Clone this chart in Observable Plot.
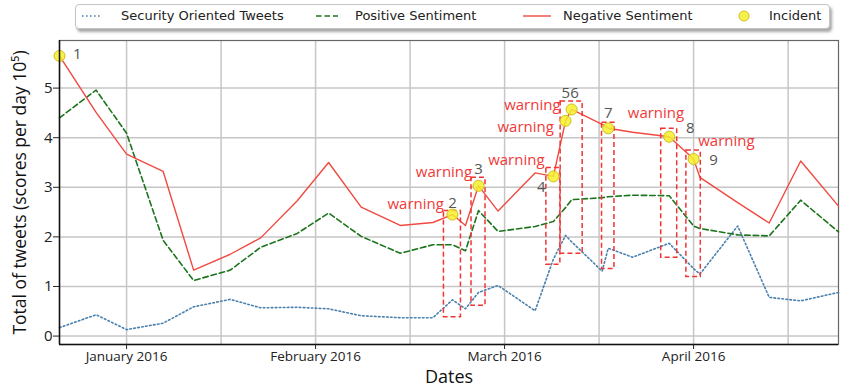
<!DOCTYPE html>
<html><head><meta charset="utf-8">
<script src="https://cdn.jsdelivr.net/npm/d3@7"></script>
<script src="https://cdn.jsdelivr.net/npm/@observablehq/plot@0.6"></script>
<style>
html,body{margin:0;padding:0;background:#fff;}
#chart{position:relative;width:847px;height:392px;overflow:hidden;background:#fff;}
#legend{position:relative;width:847px;height:34px;font-family:"DejaVu Sans",sans-serif;font-size:13px;color:#222;}
#legend span{position:absolute;top:8px;line-height:16px;white-space:nowrap;}
</style></head><body><div id="chart"><div id="legend"></div></div>
<script>
// ---- data ----
const dates = ["2015-12-21","2015-12-27","2016-01-01","2016-01-07","2016-01-12","2016-01-18","2016-01-23","2016-01-29",
  "2016-02-03","2016-02-08","2016-02-14","2016-02-19","2016-02-22","2016-02-24","2016-02-26","2016-02-29",
  "2016-03-06","2016-03-09","2016-03-11","2016-03-12","2016-03-17","2016-03-18","2016-03-22","2016-03-28",
  "2016-04-01","2016-04-02","2016-04-08","2016-04-13","2016-04-18","2016-04-24"];
const negative = [5.65,4.51,3.67,3.32,1.33,1.65,1.98,2.73,3.50,2.60,2.23,2.29,2.45,2.23,3.03,2.52,3.29,3.22,4.34,4.57,4.27,4.19,4.11,4.02,3.57,3.20,2.69,2.28,3.53,2.62];
const positive = [4.40,4.96,4.09,1.93,1.12,1.33,1.79,2.07,2.48,2.01,1.67,1.84,1.84,1.72,2.53,2.11,2.21,2.31,2.59,2.75,2.79,2.81,2.84,2.83,2.22,2.17,2.04,2.02,2.74,2.10];
const security = [0.17,0.43,0.13,0.26,0.59,0.74,0.57,0.58,0.55,0.41,0.37,0.37,0.73,0.55,0.88,1.02,0.51,1.55,2.03,1.90,1.31,1.77,1.59,1.87,1.36,1.25,2.22,0.78,0.71,0.88];

const incidentDates = ["2015-12-21","2016-02-22","2016-02-26","2016-03-09","2016-03-11","2016-03-12","2016-03-18","2016-03-28","2016-04-01"];
const incidentValues = [5.65,2.45,3.03,3.22,4.34,4.57,4.19,4.02,3.57];

const numberTexts = ["1","2","3","4","56","7","8","9"];
const numberAt = [0,1,2,3,5,6,7,8];
const warnAt = [1,2,3,4,5,7,8];
const warnText = "warning";
const boxAt = [1,2,3,5,6,7,8];
const boxTop = [2.52,3.19,3.39,4.73,4.30,4.18,3.74];
const boxBottom = [0.38,0.61,1.44,1.66,1.35,1.58,1.19];

const yTicks = [0,1,2,3,4,5];
const monthTickDates = ["2016-01-01","2016-02-01","2016-03-01","2016-04-01"];
const monthLabels = ["January 2016","February 2016","March 2016","April 2016"];
const legendLabels = ["Security Oriented Tweets","Positive Sentiment","Negative Sentiment","Incident"];
const yTitle = "Total of tweets (scores per day 10\u2075)";
const xTitle = "Dates";

// ---- annotation layout (pixel offsets / sizes) ----
const numberDx = [17.7,0,0,-12,-1.5,0,21,20];
const numberDy = [-2,-11.5,-17,10.5,-16.5,-15,-8.5,1];
const warnDx = [-8.6,-6.3,-8.8,-11.7,-11.1,15,61];
const warnDy = [-10.7,-14,-16,6,-4.7,-23.2,-17.4];
const boxHalf = [8.5,7,7,11,6.2,8,7.2];

// months placed evenly: Dec 2015 = 0, Jan 2016 = 1, ...
function toMonth(s) {
  const d = new Date(s + "T00:00:00Z");
  const y = d.getUTCFullYear(), mo = d.getUTCMonth();
  const dim = new Date(Date.UTC(y, mo + 1, 0)).getUTCDate();
  return (y - 2015) * 12 + mo - 11 + (d.getUTCDate() - 1 + d.getUTCHours() / 24) / dim;
}

const rows = dates.map((d, i) => ({m: toMonth(d), neg: negative[i], pos: positive[i], sec: security[i]}));
const incidents = incidentDates.map((d, i) => ({m: toMonth(d), v: incidentValues[i]}));
const monthTicks = monthTickDates.map(toMonth);
const gridTicks = monthTicks.flatMap(t => [t, t + 0.5]);

const RED = "#f04a40", GREEN = "#1c741c", BLUE = "#4a80ad";

const marks = [
  Plot.gridY(yTicks, {stroke: "#c6c6c6", strokeOpacity: 1, strokeWidth: 1.5}),
  Plot.gridX(gridTicks, {stroke: "#c6c6c6", strokeOpacity: 1, strokeWidth: 1.5}),
  Plot.frame({stroke: "#666", strokeWidth: 1.2}),
  Plot.line(rows, {x: "m", y: "sec", stroke: BLUE, strokeWidth: 1.6, strokeDasharray: "1.6,2.4"}),
  Plot.line(rows, {x: "m", y: "pos", stroke: GREEN, strokeWidth: 1.6, strokeDasharray: "5.5,3"}),
  Plot.line(rows, {x: "m", y: "neg", stroke: RED, strokeWidth: 1.4})
];
boxAt.forEach((k, j) => {
  marks.push(Plot.rect([{m: incidents[k].m, top: boxTop[j], bottom: boxBottom[j]}], {
    x1: "m", x2: "m", y1: "bottom", y2: "top", insetLeft: -boxHalf[j], insetRight: -boxHalf[j],
    fill: "none", stroke: "#f03434", strokeWidth: 1.5, strokeDasharray: "5,3"
  }));
});
marks.push(Plot.dot(incidents, {x: "m", y: "v", r: 5.5, fill: "#f6ee2c", fillOpacity: 0.85, stroke: "#d2be1c", strokeWidth: 1}));
numberAt.forEach((k, j) => {
  marks.push(Plot.text([incidents[k]], {x: "m", y: "v", text: () => numberTexts[j], dx: numberDx[j], dy: numberDy[j],
    fontSize: 15, fill: "#555"}));
});
warnAt.forEach((k, j) => {
  marks.push(Plot.text([incidents[k]], {x: "m", y: "v", text: () => warnText, dx: warnDx[j], dy: warnDy[j],
    textAnchor: "end", fontSize: 15, fill: "#f03a3a"}));
});
marks.push(
  Plot.ruleX([rows[0].m], {stroke: "#111", strokeWidth: 1.5}),
  Plot.ruleY([-0.17], {stroke: "#111", strokeWidth: 1.5}),
  Plot.axisY(yTicks, {tickSize: 6, tickPadding: 1, fontSize: 15, tickFormat: d => String(d), label: null, stroke: "#222"}),
  Plot.axisX(monthTicks, {tickSize: 5, tickPadding: 2, fontSize: 13.5, tickFormat: d => monthLabels[monthTicks.indexOf(d)], label: null, stroke: "#222"}),
  Plot.text([yTitle], {text: d => d, frameAnchor: "left", textAnchor: "middle", rotate: -90, dx: -39, fontSize: 17.5, fill: "#111"}),
  Plot.text([xTitle], {text: d => d, frameAnchor: "bottom", textAnchor: "middle", dy: 38, fontSize: 18, fill: "#111"})
);

const chart = Plot.plot({
  width: 847, height: 358,
  marginTop: 6, marginBottom: 48, marginLeft: 59, marginRight: 9,
  x: {type: "linear", domain: d3.extent(rows, d => d.m)},
  y: {domain: [-0.17, 5.96]},
  style: {fontFamily: "'Open Sans', sans-serif", color: "#222", background: "white", overflow: "visible"},
  marks
});
document.getElementById("chart").appendChild(chart);

// ---- legend (HTML above the SVG) ----
const leg = document.getElementById("legend");
const box = document.createElement("div");
box.style.cssText = "position:absolute;left:75px;top:4px;width:753px;height:23px;border:1px solid #c4c4c4;border-radius:4px;background:#fff;box-shadow:2px 3px 3px rgba(0,0,0,0.35);";
leg.appendChild(box);
const ns = "http://www.w3.org/2000/svg";
const sw = document.createElementNS(ns, "svg");
sw.setAttribute("width", 847); sw.setAttribute("height", 34);
sw.style.cssText = "position:absolute;left:0;top:0;";
const swatches = [
  {x1: 82, x2: 102, stroke: BLUE, dash: "1.6,2.4", w: 1.6},
  {x1: 316, x2: 338, stroke: GREEN, dash: "5.5,3", w: 1.6},
  {x1: 523, x2: 551, stroke: RED, dash: null, w: 1.4}
];
swatches.forEach(s => {
  const l = document.createElementNS(ns, "line");
  l.setAttribute("x1", s.x1); l.setAttribute("x2", s.x2); l.setAttribute("y1", 16); l.setAttribute("y2", 16);
  l.setAttribute("stroke", s.stroke); l.setAttribute("stroke-width", s.w);
  if (s.dash) l.setAttribute("stroke-dasharray", s.dash);
  sw.appendChild(l);
});
const c = document.createElementNS(ns, "circle");
c.setAttribute("cx", 744); c.setAttribute("cy", 16); c.setAttribute("r", 5);
c.setAttribute("fill", "#f6ee2c"); c.setAttribute("fill-opacity", 0.85); c.setAttribute("stroke", "#d2be1c");
sw.appendChild(c);
leg.appendChild(sw);
const textLefts = [121, 355, 563, 769];
legendLabels.forEach((t, i) => {
  const s = document.createElement("span");
  s.textContent = t; s.style.left = textLefts[i] + "px";
  leg.appendChild(s);
});
</script></body></html>
